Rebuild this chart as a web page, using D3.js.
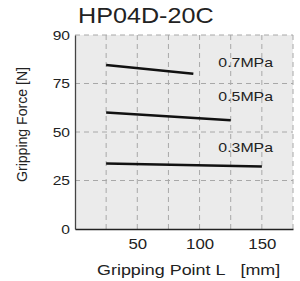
<!DOCTYPE html>
<html>
<head>
<meta charset="utf-8">
<script src="https://cdn.jsdelivr.net/npm/d3@7"></script>
<style>
  body { margin: 0; background: #fff; }
  text { font-family: "Liberation Sans", Arial, sans-serif; fill: #222; }
</style>
</head>
<body>
<div id="chart-area"></div>
<script>
// Data
const pressures = ["0.7MPa", "0.5MPa", "0.3MPa"]
const gripPoints = [[25, 95], [25, 125], [25, 150]]
const gripForces = [[84.5, 80], [60, 56], [33.7, 32.2]]
const xTicks = [50, 100, 150]
const yTicks = [0, 25, 50, 75, 100]
const yTickLabels = ["0", "25", "50", "75", "90"]

const MARGIN = { LEFT: 75, RIGHT: 7, TOP: 35, BOTTOM: 52 }
const W = 300, H = 281
const WIDTH = W - MARGIN.LEFT - MARGIN.RIGHT
const HEIGHT = H - MARGIN.TOP - MARGIN.BOTTOM

// the original type is a wide gothic face, so widen Arial-like glyphs a bit
function stretch(sel, k) {
  sel.each(function () {
    const len = this.getComputedTextLength()
    d3.select(this).attr("textLength", len * k).attr("lengthAdjust", "spacingAndGlyphs")
  })
}

const svg = d3.select("#chart-area").append("svg")
  .attr("width", W)
  .attr("height", H)

const g = svg.append("g")
  .attr("transform", `translate(${MARGIN.LEFT},${MARGIN.TOP})`)

const x = d3.scaleLinear().domain([0, 175]).range([0, WIDTH])
const y = d3.scaleLinear().domain([0, 100]).range([HEIGHT, 0])

// plot background
g.append("rect")
  .attr("width", WIDTH).attr("height", HEIGHT)
  .attr("fill", "#ebebeb")

// dashed grid
g.selectAll(".vgrid")
  .data(d3.range(25, 176, 25))
  .join("line")
  .attr("class", "vgrid")
  .attr("x1", d => x(d)).attr("x2", d => x(d))
  .attr("y1", 0).attr("y2", HEIGHT)
  .attr("stroke", "#a8a8a8").attr("stroke-dasharray", "5,4")

g.selectAll(".hgrid")
  .data(yTicks.slice(1))
  .join("line")
  .attr("class", "hgrid")
  .attr("x1", 0).attr("x2", WIDTH)
  .attr("y1", d => y(d)).attr("y2", d => y(d))
  .attr("stroke", "#a8a8a8").attr("stroke-dasharray", "5,4")

// axes
const yAx = g.append("g")
  .call(d3.axisLeft(y).tickValues(yTicks).tickSize(0).tickPadding(5)
    .tickFormat((d, i) => yTickLabels[i]))
yAx.select(".domain").attr("stroke", "#444").attr("stroke-width", 1.3)
yAx.selectAll("text").style("font-size", "13px").attr("fill", "#222").call(stretch, 1.2)

const xAx = g.append("g")
  .attr("transform", `translate(0,${HEIGHT})`)
  .call(d3.axisBottom(x).tickValues(xTicks).tickSize(0).tickPadding(10))
xAx.select(".domain").attr("stroke", "#222").attr("stroke-width", 1.6)
xAx.selectAll("text").style("font-size", "14px").attr("fill", "#222").call(stretch, 1.2)

// lines
const line = d3.line().x(d => x(d[0])).y(d => y(d[1]))
pressures.forEach((p, i) => {
  const pts = gripPoints[i].map((v, j) => [v, gripForces[i][j]])
  g.append("path")
    .datum(pts)
    .attr("d", line)
    .attr("fill", "none")
    .attr("stroke", "#111")
    .attr("stroke-width", 2.5)
  g.append("text")
    .attr("x", x(175) - 20)
    .attr("y", y(gripForces[i][0]) - 12 + (i === 0 ? 14 : 0))
    .attr("text-anchor", "end")
    .style("font-size", "13px")
    .attr("fill", "#555")
    .text(p)
    .call(stretch, 1.22)
})

// titles
svg.append("text")
  .attr("x", 78).attr("y", 23)
  .style("font-size", "21.5px")
  .attr("fill", "#1a1a1a")
  .text("HP04D-20C")
  .call(stretch, 1.17)

svg.append("text")
  .attr("x", 97).attr("y", 275)
  .style("font-size", "14.7px")
  .text("Gripping Point L\u00a0\u00a0\u00a0[mm]")
  .call(stretch, 1.22)

svg.append("text")
  .attr("transform", `translate(26.5,124.5) rotate(-90)`)
  .attr("text-anchor", "middle")
  .style("font-size", "14.7px")
  .attr("textLength", 115)
  .attr("lengthAdjust", "spacingAndGlyphs")
  .text("Gripping Force [N]")
</script>
</body>
</html>
